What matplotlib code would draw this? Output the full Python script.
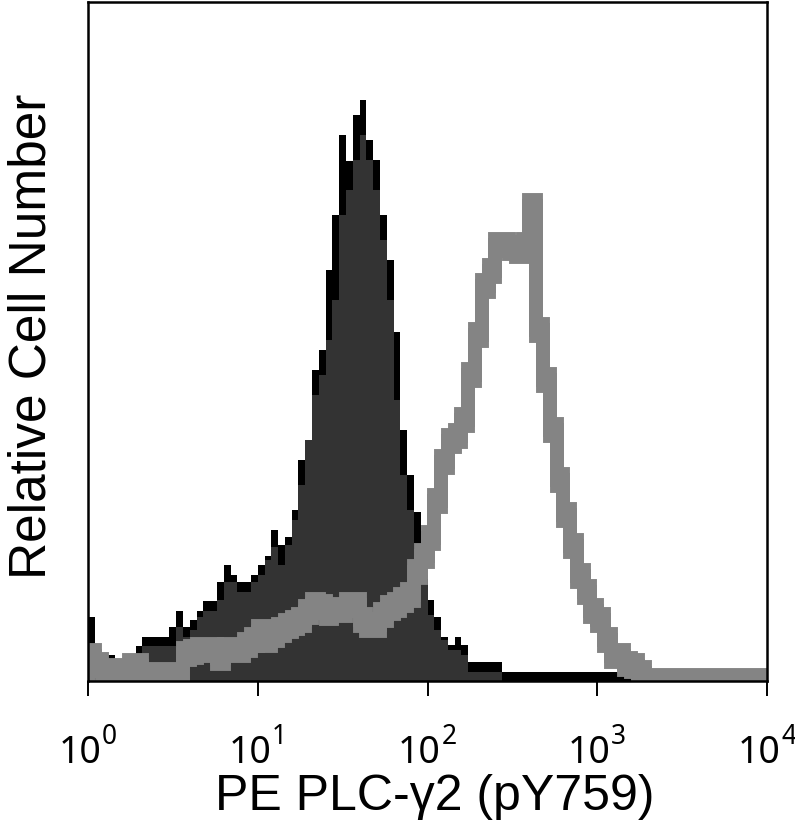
import numpy as np
import matplotlib
matplotlib.use("Agg")
import matplotlib.pyplot as plt
from matplotlib import transforms
from matplotlib.ticker import FixedLocator, NullLocator

# 100 log-spaced channels from 10^0 to 10^4, heights in relative counts
decades = [0, 4]
n_bins = 100

# black filled histogram (drawn first)
black_counts = [
    64, 20, 15, 26, 18, 18, 20, 35, 44, 44,
    44, 44, 54, 70, 54, 61, 70, 80, 80, 99,
    116, 106, 99, 99, 106, 116, 125, 151, 136, 144,
    171, 221, 241, 311, 331, 411, 466, 546, 520, 566,
    581, 541, 521, 466, 421, 349, 251, 206, 169, 106,
    81, 64, 44, 36, 44, 36, 19, 19, 19, 19,
    19, 9, 9, 9, 9, 9, 9, 9, 9, 9,
    9, 9, 9, 9, 9, 9, 9, 9, 9, 9,
    9, 0, 0, 0, 0, 0, 0, 0, 0, 0,
    0, 0, 0, 0, 0, 0, 0, 0, 0, 0,
]

# dark grey filled histogram
dark_counts = [
    0, 0, 0, 0, 0, 0, 0, 0, 35, 35,
    35, 35, 35, 54, 44, 51, 64, 70, 70, 81,
    99, 99, 89, 89, 99, 106, 121, 134, 116, 136,
    161, 196, 241, 286, 306, 341, 381, 466, 491, 521,
    546, 521, 491, 441, 381, 281, 206, 171, 96, 96,
    66, 51, 41, 31, 31, 26, 9, 9, 9, 9,
    9, 0, 0, 0, 0, 0, 0, 0, 0, 0,
    0, 0, 0, 0, 0, 0, 0, 0, 0, 0,
    0, 0, 0, 0, 0, 0, 0, 0, 0, 0,
    0, 0, 0, 0, 0, 0, 0, 0, 0, 0,
]

# grey open histogram (thick outline)
grey_counts = [
    25, 16, 10, 10, 10, 10, 15, 15, 6, 6,
    6, 6, 6, 6, 27, 29, 31, 31, 31, 23,
    31, 31, 31, 36, 41, 49, 41, 46, 51, 55,
    58, 61, 69, 76, 74, 68, 71, 71, 76, 76,
    61, 56, 56, 66, 73, 76, 81, 86, 109, 125,
    143, 180, 219, 240, 245, 261, 306, 346, 395, 410,
    436, 436, 433, 430, 436, 475, 351, 301, 251, 201,
    166, 135, 105, 89, 70, 61, 41, 25, 25, 17,
    15, 8, 0, 0, 0, 0, 0, 0, 0, 0,
    0, 0, 0, 0, 0, 0, 0, 0, 0, 0,
]

tick_values = [1, 10, 100, 1000, 10000]
tick_exponents = ["0", "1", "2", "3", "4"]

plt.rcParams["font.family"] = ["Liberation Sans", "DejaVu Sans"]

fig = plt.figure(figsize=(7.95, 8.21), dpi=100)
ax = fig.add_axes([88 / 795, 140 / 821, 679 / 795, 679 / 821])

edges = np.logspace(decades[0], decades[1], n_bins + 1)

ax.stairs(black_counts, edges, fill=True, color="black", lw=0)
ax.stairs(dark_counts, edges, fill=True, color="#333333", lw=0)

# grey outline: horizontal parts look thicker than vertical ones,
# so stack the line with small vertical offsets
for dy in (-6, 0, 6):
    tr = transforms.offset_copy(ax.transData, fig=fig, x=0, y=dy, units="dots")
    sp = ax.stairs(grey_counts, edges, fill=False, color="#848484",
                   lw=10, baseline=0, transform=tr)
    sp.set_joinstyle("miter")
    sp.set_capstyle("butt")

ax.set_xscale("log")
ax.set_xlim(edges[0], edges[-1])
ax.set_ylim(0, 679)

ax.xaxis.set_major_locator(FixedLocator(tick_values))
ax.xaxis.set_minor_locator(NullLocator())
ax.set_yticks([])
ax.tick_params(axis="x", direction="out", length=11, width=1.4,
               labelbottom=False)

# decade labels, "10" with a raised exponent
narrow = dict(family=["Noto Sans", "DejaVu Sans"], fontstretch="condensed")
xtr = ax.get_xaxis_transform()
for v, e in zip(tick_values, tick_exponents):
    ax.annotate("10", xy=(v, 0), xycoords=xtr, xytext=(-8, -82),
                textcoords="offset pixels", ha="center", va="baseline",
                fontsize=27, **narrow)
    ax.annotate(e, xy=(v, 0), xycoords=xtr, xytext=(14, -63),
                textcoords="offset pixels", ha="left", va="baseline",
                fontsize=19, **narrow)

for s in ax.spines.values():
    s.set_linewidth(1.8)

ax.set_xlabel("PE PLC-γ2 (pY759)", fontsize=36, va="baseline")
ax.xaxis.set_label_coords(0.511, -0.190)
ax.set_ylabel("Relative Cell Number", fontsize=37)
ax.yaxis.set_label_coords(-0.047, 0.507)

fig.savefig("out.png", dpi=100)
